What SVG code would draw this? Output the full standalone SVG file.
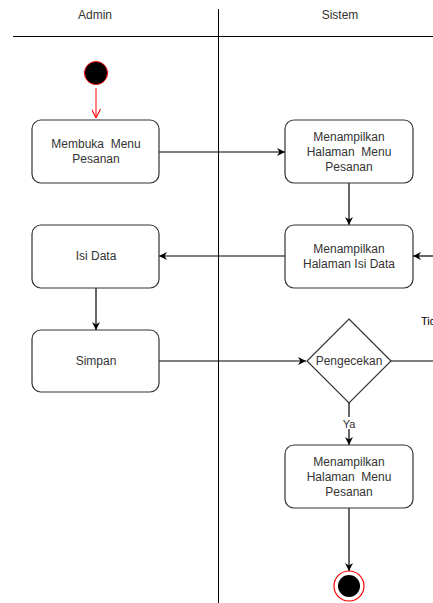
<svg xmlns="http://www.w3.org/2000/svg" width="433" height="603" viewBox="0 0 433 603">
<style>
text{font-family:"Liberation Sans",Arial,sans-serif;font-size:12px;fill:#333;text-anchor:middle;white-space:pre}
.box{fill:#fff;stroke:#333;stroke-width:1.2}
.ln{stroke:#000;stroke-width:1.2;fill:none}
.sl{stroke:#000;stroke-width:1;fill:none}
</style>
<defs>
<marker id="ah" viewBox="0 0 10 10" refX="10" refY="5" markerWidth="8" markerHeight="8" markerUnits="userSpaceOnUse" orient="auto"><path d="M0,0 L10,5 L0,10 L3,5 Z" fill="#000"/></marker>
<marker id="ahr" viewBox="0 0 10 10" refX="10" refY="5" markerWidth="9" markerHeight="9" markerUnits="userSpaceOnUse" orient="auto"><path d="M0,0 L10,5 L0,10" fill="none" stroke="#f00" stroke-width="1.2"/></marker>
</defs>
<g id="lanes">
<line class="sl" x1="13" y1="36.5" x2="433" y2="36.5"/>
<line class="sl" x1="218.5" y1="9" x2="218.5" y2="603"/>
<text x="95" y="19">Admin</text>
<text x="340" y="19">Sistem</text>
</g>
<g id="connectors">
<line x1="96" y1="88" x2="96" y2="118" stroke="#f00" stroke-width="1" marker-end="url(#ahr)"/>
<line class="ln" x1="159" y1="152" x2="285" y2="152" marker-end="url(#ah)"/>
<line class="ln" x1="349" y1="183" x2="349" y2="225" marker-end="url(#ah)"/>
<line class="ln" x1="433" y1="256" x2="413" y2="256" marker-end="url(#ah)"/>
<line class="ln" x1="285" y1="256" x2="159" y2="256" marker-end="url(#ah)"/>
<line class="ln" x1="96" y1="288" x2="96" y2="330" marker-end="url(#ah)"/>
<line class="ln" x1="159" y1="361" x2="306" y2="361" marker-end="url(#ah)"/>
<line class="ln" x1="391" y1="361" x2="433" y2="361"/>
<text x="421" y="325" style="text-anchor:start;fill:#000;font-size:11px">Tidak</text>
<line class="ln" x1="349" y1="403" x2="349" y2="445" marker-end="url(#ah)"/>
<rect x="340" y="417" width="18" height="12" fill="#fff"/>
<text x="349" y="428" style="font-size:11px">Ya</text>
<line class="ln" x1="349" y1="508" x2="349" y2="571" marker-end="url(#ah)"/>
</g>
<g id="start"><circle cx="96" cy="73" r="11.5" fill="#000" stroke="#f00" stroke-width="1"/></g>
<g id="membuka"><rect class="box" x="32" y="120" width="127" height="63" rx="9"/><text x="96" y="148" xml:space="preserve">Membuka  Menu</text><text x="96" y="163">Pesanan</text></g>
<g id="tampil1"><rect class="box" x="285" y="120" width="128" height="63" rx="9"/><text x="349" y="141">Menampilkan</text><text x="349" y="156" xml:space="preserve">Halaman  Menu</text><text x="349" y="171">Pesanan</text></g>
<g id="isidata"><rect class="box" x="32" y="225" width="127" height="63" rx="9"/><text x="96" y="260">Isi Data</text></g>
<g id="tampil2"><rect class="box" x="285" y="225" width="128" height="63" rx="9"/><text x="349" y="253">Menampilkan</text><text x="349" y="268">Halaman Isi Data</text></g>
<g id="simpan"><rect class="box" x="32" y="330" width="127" height="62" rx="9"/><text x="96" y="365">Simpan</text></g>
<g id="cek"><polygon class="box" points="349,319 391,361 349,403 307,361"/><text x="349" y="365">Pengecekan</text></g>
<g id="tampil3"><rect class="box" x="285" y="445" width="128" height="63" rx="9"/><text x="349" y="466">Menampilkan</text><text x="349" y="481" xml:space="preserve">Halaman  Menu</text><text x="349" y="496">Pesanan</text></g>
<g id="end"><circle cx="349" cy="586" r="15" fill="#fff" stroke="#f00" stroke-width="1.2"/><circle cx="349" cy="586" r="11" fill="#000"/></g>
</svg>
